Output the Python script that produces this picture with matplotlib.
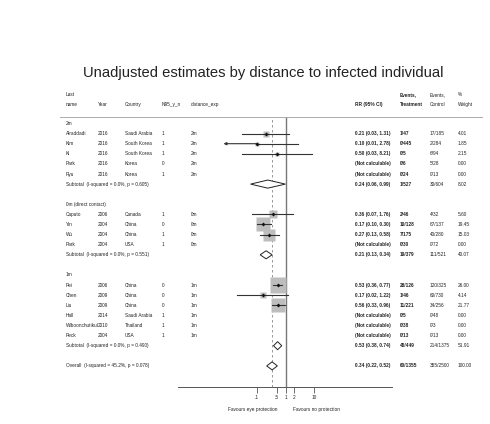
import numpy as np
import matplotlib.pyplot as plt
from matplotlib.patches import Polygon

plt.rcParams['font.family'] = ['Liberation Sans', 'DejaVu Sans']

# ---- study data -------------------------------------------------------
group_names = ["2m", "0m (direct contact)", "1m"]
group_of = [0, 0, 0, 0, 0, 1, 1, 1, 1, 2, 2, 2, 2, 2, 2]
names = ["Alraddadi", "Kim", "Ki", "Park", "Ryu",
         "Caputo", "Yin", "Wu", "Park",
         "Pei", "Chen", "Liu", "Hall", "Wiboonchutikul", "Peck"]
years = ["2016", "2016", "2016", "2016", "2016",
         "2006", "2004", "2004", "2004",
         "2006", "2009", "2009", "2014", "2010", "2004"]
countries = ["Saudi Arabia", "South Korea", "South Korea", "Korea", "Korea",
             "Canada", "China", "China", "USA",
             "China", "China", "China", "Saudi Arabia", "Thailand", "USA"]
n95 = ["1", "1", "1", "0", "1", "1", "0", "1", "1", "0", "0", "0", "1", "1", "1"]
distance = ["2m"] * 5 + ["0m"] * 4 + ["1m"] * 6
rr = [0.21, 0.10, 0.50, None, None,
      0.36, 0.17, 0.27, None,
      0.53, 0.17, 0.56, None, None, None]
rr_lo = [0.03, 0.01, 0.03, None, None,
         0.07, 0.10, 0.13, None,
         0.36, 0.02, 0.33, None, None, None]
rr_hi = [1.31, 2.78, 8.21, None, None,
         1.76, 0.30, 0.58, None,
         0.77, 1.22, 0.96, None, None, None]
events_t = ["1/47", "0/445", "0/5", "0/6", "0/24",
            "2/46", "10/128", "7/175", "0/30",
            "28/126", "1/46", "11/221", "0/5", "0/38", "0/13"]
events_c = ["17/185", "2/284", "6/94", "5/28", "0/13",
            "4/32", "67/137", "40/280", "0/72",
            "120/325", "60/730", "34/256", "0/48", "0/3", "0/13"]
weights = [4.01, 1.85, 2.15, 0.00, 0.00,
           5.60, 19.45, 15.03, 0.00,
           26.00, 4.14, 21.77, 0.00, 0.00, 0.00]

# subgroup pooled results
sub_rr = [0.24, 0.21, 0.53]
sub_lo = [0.06, 0.13, 0.38]
sub_hi = [0.99, 0.34, 0.74]
sub_i2 = ["0.0%", "0.0%", "0.0%"]
sub_p = ["0.605", "0.551", "0.490"]
sub_events_t = ["1/527", "19/379", "40/449"]
sub_events_c = ["30/604", "111/521", "214/1375"]
sub_weights = [8.02, 40.07, 51.91]

# overall pooled result
overall_rr, overall_lo, overall_hi = 0.34, 0.22, 0.52
overall_i2, overall_p = "45.2%", "0.078"
overall_events = ("60/1355", "355/2500")

x_ticks = [0.1, 0.5, 1, 2, 10]
x_ticklabels = [".1", ".5", "1", "2", "10"]

# ---- figure geometry (pixels) ----------------------------------------
W, H = 490, 424
fig = plt.figure(figsize=(W / 100, H / 100), dpi=100)

ROW0, ROWH = 123.5, 10.1          # y of first row, row pitch
AX_TOP, AX_BOT = 116.7, 387.0     # forest panel vertical extent
AX_L, AX_R = 178.0, 392.0         # forest panel horizontal extent
X_ONE, DEC = 285.5, 28.6          # pixel of RR = 1, pixels per decade

ax = fig.add_axes([AX_L / W, 1 - AX_BOT / H, (AX_R - AX_L) / W, (AX_BOT - AX_TOP) / H])
ax.set_xscale('log')
ax.set_xlim(10 ** ((AX_L - X_ONE) / DEC), 10 ** ((AX_R - X_ONE) / DEC))
ax.set_ylim((AX_BOT - ROW0) / ROWH, (AX_TOP - ROW0) / ROWH)
for s in ['top', 'right', 'left']:
    ax.spines[s].set_visible(False)
ax.spines['bottom'].set_color('#555555')
ax.spines['bottom'].set_linewidth(0.7)
ax.set_yticks([])
ax.set_xticks(x_ticks)
ax.set_xticklabels(x_ticklabels)
ax.minorticks_off()
ax.tick_params(axis='x', length=4.3, width=0.6, color='#555555',
               labelsize=3.4, pad=1.5, labelcolor='#222222')

FS = 3.4


def ytext(row):
    return 1 - (ROW0 + ROWH * row) / H


def put(xpx, row_or_ypx, s, bold=False, is_px=False, color='#222222', **kw):
    y = 1 - row_or_ypx / H if is_px else ytext(row_or_ypx)
    fig.text(xpx / W, y, s, fontsize=FS, va='center', ha=kw.pop('ha', 'left'),
             fontweight='bold' if bold else 'normal', color=color, **kw)


COLS = dict(name=65.7, year=98.0, country=125.0, n95=161.7, dist=191.0,
            rr=355.0, evt=400.0, evc=430.0, w=458.0)

# title
fig.text(263 / W, 1 - 72.5 / H, "Unadjusted estimates by distance to infected individual",
         fontsize=10.6, ha='center', va='center', color='#222222')

# column headers
put(COLS['name'], 94.3, "Last", is_px=True)
put(COLS['name'], 104.3, "name", is_px=True)
put(COLS['year'], 104.3, "Year", is_px=True)
put(COLS['country'], 104.3, "Country", is_px=True)
put(COLS['n95'], 104.3, "N95_y_n", is_px=True)
put(COLS['dist'], 104.3, "distance_exp", is_px=True)
put(COLS['rr'], 104.3, "RR (95% CI)", is_px=True, bold=True)
put(COLS['evt'], 94.3, "Events,", is_px=True, bold=True)
put(COLS['evt'], 104.3, "Treatment", is_px=True, bold=True)
put(COLS['evc'], 94.3, "Events,", is_px=True)
put(COLS['evc'], 104.3, "Control", is_px=True)
put(COLS['w'], 94.3, "%", is_px=True)
put(COLS['w'], 104.3, "Weight", is_px=True)

# header rule
fig.add_artist(plt.Line2D([60 / W, 482 / W], [1 - 116.7 / H] * 2,
                          transform=fig.transFigure, color='#aaaaaa', lw=0.7))

# reference lines
ax.axvline(1, color='#777777', lw=1.0, zorder=1)
ax.axvline(overall_rr, color='#888888', lw=0.6, ls=(0, (3, 3)), zorder=1)


def fmt_rr(v, lo, hi):
    if v is None:
        return "(Not calculable)"
    return f"{v:.2f} ({lo:.2f}, {hi:.2f})"


def diamond(v, lo, hi, row):
    hh = 0.4
    ax.add_patch(Polygon([(lo, row), (v, row - hh), (hi, row), (v, row + hh)],
                         closed=True, fc='white', ec='#222222', lw=0.7, zorder=4))


row = 0
for g, gname in enumerate(group_names):
    put(COLS['name'], row, gname)
    row += 1
    for i in [k for k, gg in enumerate(group_of) if gg == g]:
        put(COLS['name'], row, names[i])
        put(COLS['year'], row, years[i])
        put(COLS['country'], row, countries[i])
        put(COLS['n95'], row, n95[i])
        put(COLS['dist'], row, distance[i])
        put(COLS['rr'], row, fmt_rr(rr[i], rr_lo[i], rr_hi[i]), bold=True)
        put(COLS['evt'], row, events_t[i], bold=True)
        put(COLS['evc'], row, events_c[i])
        put(COLS['w'], row, f"{weights[i]:.2f}")
        if rr[i] is not None:
            side_px = 3.14 * np.sqrt(weights[i])
            ax.plot([rr[i]], [row], marker='s', ms=side_px * 0.72, color='#bdbdbd',
                    mec='none', zorder=2)
            if rr_lo[i] < 0.012:
                # interval runs past the plotted range: draw it with an arrow
                ax.plot([rr[i], rr_hi[i]], [row, row], color='#333333', lw=0.8, zorder=3)
                ax.annotate("", xy=(0.0068, row), xytext=(rr[i], row),
                            arrowprops=dict(arrowstyle='-|>', color='#333333', lw=0.8,
                                            mutation_scale=4, shrinkA=0, shrinkB=0),
                            zorder=3)
            else:
                ax.plot([rr_lo[i], rr_hi[i]], [row, row], color='#333333', lw=0.8, zorder=3)
            ax.plot([rr[i]], [row], marker='D', ms=2.0, color='#111111', mec='none', zorder=4)
        row += 1
    put(COLS['name'], row, f"Subtotal  (I-squared = {sub_i2[g]}, p = {sub_p[g]})")
    put(COLS['rr'], row, fmt_rr(sub_rr[g], sub_lo[g], sub_hi[g]), bold=True)
    put(COLS['evt'], row, sub_events_t[g], bold=True)
    put(COLS['evc'], row, sub_events_c[g])
    put(COLS['w'], row, f"{sub_weights[g]:.2f}")
    diamond(sub_rr[g], sub_lo[g], sub_hi[g], row)
    row += 2

put(COLS['name'], row, f"Overall  (I-squared = {overall_i2}, p = {overall_p})")
put(COLS['rr'], row, fmt_rr(overall_rr, overall_lo, overall_hi), bold=True)
put(COLS['evt'], row, overall_events[0], bold=True)
put(COLS['evc'], row, overall_events[1])
put(COLS['w'], row, "100.00")
diamond(overall_rr, overall_lo, overall_hi, row)

# direction labels under the axis
put(277, 409.3, "Favours eye protection", is_px=True, ha='right')
put(293, 409.3, "Favours no protection", is_px=True)

fig.savefig("out.png", dpi=100, facecolor='white')
